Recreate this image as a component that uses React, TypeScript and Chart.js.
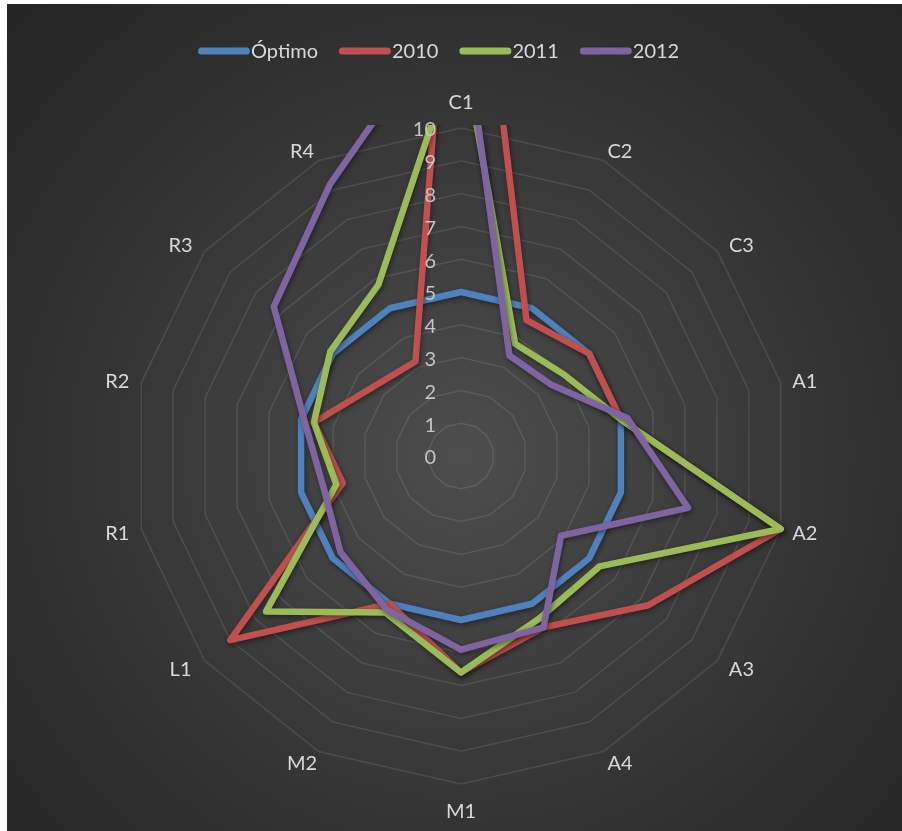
import React, { useEffect, useRef } from 'react';
import { Chart, registerables } from 'chart.js';

Chart.register(...registerables);

// ---- data ----
const categories = ['C1', 'C2', 'C3', 'A1', 'A2', 'A3', 'A4', 'M1', 'M2', 'L1', 'R1', 'R2', 'R3', 'R4'];
const optimo = [5, 5, 5, 5, 5, 5, 5, 5, 5, 5, 5, 5, 5, 5];
const y2010 = [21, 4.6, 5, 5, 10, 7.3, 5.8, 6.6, 5, 9, 3.7, 4.6, 3.4, 3.2];
const y2011 = [12.8, 3.8, 4, 5, 10, 5.4, 5.5, 6.6, 5.3, 7.6, 3.9, 4.6, 5.1, 5.8];
const y2012 = [14, 3.4, 3.5, 5.2, 7.1, 3.9, 5.8, 5.9, 5.2, 4.7, 4.3, 4.9, 7.3, 9.2];
const seriesNames = ['Óptimo', '2010', '2011', '2012'];
const tickValues = [0, 1, 2, 3, 4, 5, 6, 7, 8, 9, 10];

// ---- styles ----
const seriesColors = ['#4F81BD', '#C0504D', '#9BBB59', '#8064A2'];
const FONT = '20px Lato, "Open Sans", sans-serif';
const TEXT = '#d9d9d9';
const TICK_TEXT = '#c4c4c4';

const bgPlugin = {
  id: 'bgPlugin',
  beforeDraw(chart: any) {
    const { ctx, width, height } = chart;
    const s = chart.scales.r;
    ctx.save();
    ctx.fillStyle = '#ffffff';
    ctx.fillRect(0, 0, width, height);
    const g = ctx.createRadialGradient(s.xCenter, s.yCenter, 0, s.xCenter, s.yCenter, 640);
    g.addColorStop(0, '#4d4d4d');
    g.addColorStop(0.55, '#353535');
    g.addColorStop(1, '#242424');
    ctx.fillStyle = g;
    ctx.fillRect(7, 4, width - 7, height - 4);
    ctx.restore();
  },
};

const shadowPlugin = {
  id: 'shadowPlugin',
  beforeDatasetDraw(chart: any) {
    const ctx = chart.ctx;
    ctx.save();
    ctx.shadowColor = 'rgba(0,0,0,0.45)';
    ctx.shadowBlur = 5;
    ctx.shadowOffsetX = 1;
    ctx.shadowOffsetY = 2;
  },
  afterDatasetDraw(chart: any) {
    chart.ctx.restore();
  },
};

const textPlugin = {
  id: 'textPlugin',
  afterDraw(chart: any) {
    const { ctx } = chart;
    const s = chart.scales.r;
    ctx.save();
    ctx.font = FONT;
    ctx.textBaseline = 'middle';

    // tick labels, right-aligned left of the vertical axis
    ctx.fillStyle = TICK_TEXT;
    ctx.textAlign = 'right';
    tickValues.forEach((v) => {
      const d = s.getDistanceFromCenterForValue(v);
      ctx.fillText(String(v), s.xCenter - 25, s.yCenter - d + 2);
    });

    // category labels, placed outside the outer ring vertex
    ctx.fillStyle = TEXT;
    ctx.textAlign = 'center';
    const n = categories.length;
    categories.forEach((c, i) => {
      const p = s.getPointPosition(i, s.drawingArea);
      const a = (i / n) * Math.PI * 2;
      const sn = Math.sin(a);
      const cs = Math.cos(a);
      let dx = 0;
      let dy = 0;
      if (Math.abs(sn) < 0.1) {
        dy = -26.5 * cs + 1.5;
      } else {
        dx = Math.sign(sn) * 24 * Math.min(1, 1.6 * Math.abs(sn));
        dy = -12 * cs + 1.5;
      }
      ctx.fillText(c, p.x + dx, p.y + dy);
    });

    // legend
    let x = 198;
    const y = 51;
    chart.data.datasets.forEach((ds: any) => {
      ctx.strokeStyle = ds.borderColor;
      ctx.lineWidth = 7;
      ctx.lineCap = 'round';
      ctx.beginPath();
      ctx.moveTo(x + 3.5, y);
      ctx.lineTo(x + 52 - 3.5, y);
      ctx.stroke();
      ctx.fillStyle = TEXT;
      ctx.textAlign = 'left';
      ctx.fillText(ds.label, x + 53, y + 1);
      x += 53 + ctx.measureText(ds.label).width + 21;
    });
    ctx.restore();
  },
};

export default function App() {
  const ref = useRef<HTMLCanvasElement>(null);

  useEffect(() => {
    const values = [optimo, y2010, y2011, y2012];
    const chart = new Chart(ref.current as HTMLCanvasElement, {
      type: 'radar',
      data: {
        labels: categories,
        datasets: seriesNames.map((name, i) => ({
          label: name,
          data: values[i],
          borderColor: seriesColors[i],
          backgroundColor: 'transparent',
          fill: false,
          order: 4 - i,
          clip: { left: false, right: false, top: 3, bottom: false },
        })),
      },
      options: {
        responsive: false,
        animation: false,
        devicePixelRatio: 1,
        layout: { padding: { left: 41, right: 21, top: 128, bottom: 47 } },
        plugins: {
          legend: { display: false },
          tooltip: { enabled: false },
        },
        elements: {
          point: { radius: 0, hoverRadius: 0 },
          line: { borderWidth: 6.5, tension: 0, borderJoinStyle: 'round', borderCapStyle: 'round' },
        },
        scales: {
          r: {
            min: 0,
            max: 10,
            startAngle: 0,
            ticks: { display: false, stepSize: 1 },
            grid: { color: 'rgba(255,255,255,0.10)', lineWidth: 1.5 },
            angleLines: { display: false },
            pointLabels: { display: false },
          },
        },
      } as any,
      plugins: [bgPlugin, shadowPlugin, textPlugin],
    });
    return () => chart.destroy();
  }, []);

  return (
    <div style={{ position: 'absolute', left: 0, top: 0, width: 902, height: 831 }}>
      <canvas ref={ref} width={902} height={831} style={{ display: 'block', width: 902, height: 831 }} />
    </div>
  );
}
